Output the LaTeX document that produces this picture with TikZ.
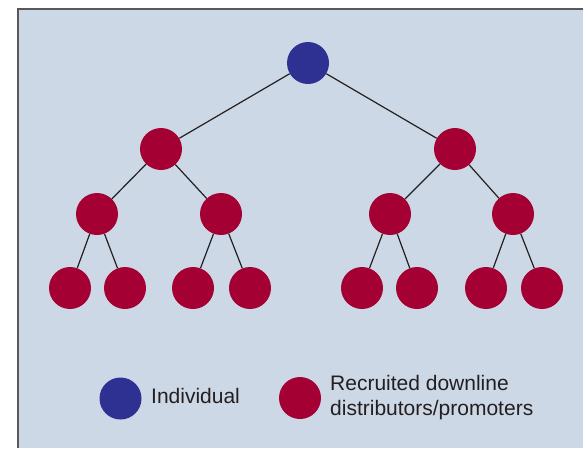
\documentclass[tikz,border=0pt]{standalone}
\usepackage{fontspec}
\setmainfont{Liberation Sans}
\definecolor{panel}{HTML}{CDD8E6}
\definecolor{frame}{HTML}{58585A}
\definecolor{indiv}{HTML}{2E3192}
\definecolor{recruit}{HTML}{A50034}
\definecolor{ink}{HTML}{231F20}
\tikzset{
  dot/.style={circle, inner sep=0pt, minimum size=42pt},
  top/.style={dot, fill=indiv},
  down/.style={dot, fill=recruit},
  link/.style={ink, line width=1.2pt},
  legtext/.style={ink, anchor=west, inner sep=0pt, font=\fontsize{21}{25}\selectfont, align=left}
}

\begin{document}
\begin{tikzpicture}[x=1pt,y=-1pt]
\useasboundingbox (0,0) rectangle (583,448);
\fill[panel] (18,9) rectangle (583,448);
\draw[frame, line width=1.5pt] (18,448) -- (18,9) -- (583,9);
\node[top] (r) at (308,63) {};
\foreach \n/\x in {a/161,b/455} \node[down] (\n) at (\x,149) {};
\foreach \n/\x in {aa/97,ab/221,ba/390,bb/513} \node[down] (\n) at (\x,214) {};
\foreach \n/\x in {aaa/70,aab/125,aba/193,abb/250,baa/362,bab/417,bba/486,bbb/542} \node[down] (\n) at (\x,288) {};
\foreach \p/\c in {r/a,r/b,a/aa,a/ab,b/ba,b/bb,aa/aaa,aa/aab,ab/aba,ab/abb,ba/baa,ba/bab,bb/bba,bb/bbb} \draw[link] (\p) -- (\c);
\node[top] (key1) at (120.5,398.5) {};
\node[legtext] (txt1) at (151,396) {Individual};
\node[down] (key2) at (300,398) {};
\node[legtext] (txt2) at (330,398) {Recruited downline\\distributors/promoters};
\end{tikzpicture}
\end{document}
